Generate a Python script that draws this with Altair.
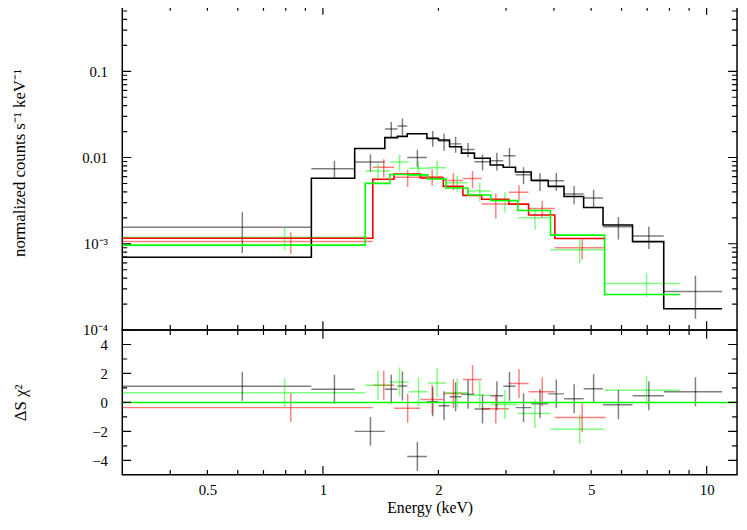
import altair as alt
import pandas as pd

FONT = "Liberation Serif"

# ---------------- data ----------------
# black spectrum: bin edges (keV), data, 1-sigma error, folded model, residual
blk_lo = [0.30, 0.933, 1.21, 1.45, 1.564, 1.659, 1.866, 2.0, 2.138, 2.296, 2.483,
          2.729, 2.951, 3.176, 3.49, 3.866, 4.249, 4.78, 5.37, 6.41, 7.73]
blk_hi = [0.933, 1.21, 1.45, 1.564, 1.659, 1.866, 2.0, 2.138, 2.296, 2.483, 2.729,
          2.951, 3.176, 3.49, 3.866, 4.249, 4.78, 5.37, 6.41, 7.73, 10.97]
blk_val = [1.55e-3, 7.4e-3, 8.9e-3, 0.0214, 0.0232, 0.0100, 0.0168, 0.0155, 0.0144, 0.0124,
           8.95e-3, 9.2e-3, 0.0105, 6.3e-3, 5.33e-3, 5.37e-3, 3.77e-3, 3.4e-3, 1.58e-3, 1.23e-3, 2.8e-4]
blk_err = [0.77e-3, 1.77e-3, 2.0e-3, 4.4e-3, 5.1e-3, 2.3e-3, 3.5e-3, 3.5e-3, 3.0e-3, 2.35e-3,
           1.89e-3, 2.14e-3, 2.5e-3, 1.4e-3, 1.25e-3, 1.25e-3, 0.9e-3, 0.82e-3, 0.46e-3, 0.36e-3, 1.45e-4]
blk_mod = [6.98e-4, 5.74e-3, 1.27e-2, 1.70e-2, 1.76e-2, 1.89e-2, 1.665e-2, 1.595e-2, 1.333e-2,
           1.125e-2, 9.83e-3, 8.2e-3, 7.72e-3, 6.80e-3, 5.44e-3, 4.63e-3, 3.54e-3, 2.63e-3,
           1.65e-3, 1.06e-3, 1.76e-4]
blk_res = [1.11, 0.91, -2.0, 0.91, 1.14, -3.73, 0.05, -0.23, 0.39, 0.57, -0.46, 0.46, 1.11,
           -0.36, -0.09, 0.59, 0.25, 0.95, -0.16, 0.46, 0.73]

# red spectrum
red_lo = [0.30, 1.349, 1.532, 1.794, 2.059, 2.317, 2.592, 3.052, 3.435, 4.022]
red_hi = [1.349, 1.532, 1.794, 2.059, 2.317, 2.592, 3.052, 3.435, 4.022, 5.453]
red_val = [1.06e-3, 7.7e-3, 5.9e-3, 6.0e-3, 5.4e-3, 5.7e-3, 2.9e-3, 3.95e-3, 2.57e-3, 9.0e-4]
red_err = [0.30e-3, 1.84e-3, 1.34e-3, 1.3e-3, 1.2e-3, 1.3e-3, 0.93e-3, 0.83e-3, 0.56e-3, 2.4e-4]
red_mod = [1.16e-3, 5.6e-3, 6.45e-3, 5.79e-3, 4.63e-3, 3.64e-3, 3.29e-3, 2.88e-3, 2.16e-3, 1.15e-3]
red_res = [-0.36, 1.18, -0.41, 0.2, 0.61, 1.59, -0.43, 1.3, 0.73, -1.04]

# green spectrum
grn_lo = [0.30, 1.289, 1.494, 1.674, 1.877, 2.092, 2.386, 2.740, 3.220, 3.918, 5.42]
grn_hi = [1.289, 1.494, 1.674, 1.877, 2.092, 2.386, 2.740, 3.220, 3.918, 5.42, 8.526]
grn_val = [1.19e-3, 7.0e-3, 8.9e-3, 7.5e-3, 7.6e-3, 5.1e-3, 4.1e-3, 3.15e-3, 2.0e-3, 8.5e-4, 3.46e-4]
grn_err = [0.35e-3, 1.65e-3, 1.89e-3, 1.58e-3, 1.6e-3, 1.08e-3, 1.0e-3, 0.84e-3, 0.56e-3, 2.5e-4, 1.05e-4]
grn_mod = [9.64e-4, 5.02e-3, 6.36e-3, 6.3e-3, 5.64e-3, 4.43e-3, 3.68e-3, 3.18e-3, 2.43e-3, 1.26e-3, 2.58e-4]
grn_res = [0.66, 1.18, 1.41, 0.73, 1.34, 0.66, 0.5, -0.14, -0.77, -1.86, 0.84]

RES_ERR = 1.0  # residual error bars are +-1 sigma
ZERO = [0.0]

# axis ranges, tick values and labels
X_DOM = [0.3, 12.0]
TOP_DOM = [1e-4, 0.5735]
RES_DOM = [-5, 5]
x_label_vals = [0.5, 1, 2, 5, 10]
x_major = [1, 10]
x_minor = [0.4, 0.5, 0.6, 0.7, 0.8, 0.9, 2, 3, 4, 5, 6, 7, 8, 9]
top_major = [1e-4, 1e-3, 1e-2, 1e-1]
top_minor = [2e-4, 3e-4, 4e-4, 5e-4, 6e-4, 7e-4, 8e-4, 9e-4,
             2e-3, 3e-3, 4e-3, 5e-3, 6e-3, 7e-3, 8e-3, 9e-3,
             2e-2, 3e-2, 4e-2, 5e-2, 6e-2, 7e-2, 8e-2, 9e-2,
             0.2, 0.3, 0.4, 0.5]
res_major = [-4, -2, 0, 2, 4]
res_minor = [-3, -1, 1, 3]

# ---------------- tables ----------------
sets = [("black", blk_lo, blk_hi, blk_val, blk_err, blk_mod, blk_res),
        ("red", red_lo, red_hi, red_val, red_err, red_mod, red_res),
        ("green", grn_lo, grn_hi, grn_val, grn_err, grn_mod, grn_res)]
rows, steps = [], []
for name, lo, hi, val, err, mod, res in sets:
    for i in range(len(lo)):
        rows.append(dict(set=name, lo=lo[i], hi=hi[i], ctr=(lo[i] + hi[i]) / 2,
                         val=val[i], vlo=val[i] - err[i], vhi=val[i] + err[i],
                         res=res[i], rlo=res[i] - RES_ERR, rhi=res[i] + RES_ERR))
        steps.append(dict(set=name, x=lo[i], m=mod[i], o=i))
    steps.append(dict(set=name, x=hi[-1], m=mod[-1], o=len(lo)))
pts = pd.DataFrame(rows)
stp = pd.DataFrame(steps)

W, H1, H2 = 624, 329, 147
xscale = alt.Scale(type="log", domain=X_DOM, nice=False)
ytop_scale = alt.Scale(type="log", domain=TOP_DOM, nice=False)
yres_scale = alt.Scale(domain=RES_DOM, nice=False, zero=False)
cscale = alt.Scale(domain=["black", "red", "green"], range=["#000000", "#ff0000", "#00ff00"])
COLOR = alt.Color("set:N", scale=cscale, legend=None)

common = dict(ticks=False, domain=False, grid=False, labelFont=FONT, labelFontSize=15,
              labelColor="black", labelFlush=False, titleFont=FONT, titleFontWeight="normal",
              titleColor="black")

ax_top_y = alt.Axis(values=top_major, labelPadding=15,
                    labelExpr="datum.value < 0.0005 ? '10⁻⁴' : datum.value < 0.005 ? '10⁻³' : datum.value < 0.05 ? '0.01' : '0.1'",
                    title="normalized counts s⁻¹ keV⁻¹", titleFontSize=17, titleAngle=270,
                    titleX=-99, titleY=159,
                    titleAlign="center", titleBaseline="alphabetic", **common)
ax_res_y = alt.Axis(values=res_major, format="d", labelPadding=15,
                    title="ΔS χ²", titleFontSize=17, titleAngle=270, titleX=-98, titleY=H2 / 2,
                    titleAlign="center", titleBaseline="alphabetic", **common)
ax_bot_x = alt.Axis(values=x_label_vals, format="~g", labelPadding=8,
                    title="Energy (keV)", titleFontSize=16, titleY=38,
                    titleBaseline="alphabetic", **common)


def XT(f):
    return alt.X(f"{f}:Q", scale=xscale, axis=None)


def XB(f):
    return alt.X(f"{f}:Q", scale=xscale, axis=ax_bot_x)


def YT(f):
    return alt.Y(f"{f}:Q", scale=ytop_scale, axis=ax_top_y)


def YR(f):
    return alt.Y(f"{f}:Q", scale=yres_scale, axis=ax_res_y)


def tick_layers(X, Y, ydom, xmaj, xmin, ymaj, ymin):
    """Inward ticks on all four frame edges: ticks centred on an edge, clipped to the plot."""
    out = []
    for vals, size in ((xmaj, 18), (xmin, 10)):
        d = pd.DataFrame([{"t": v, "e": e} for v in vals for e in ydom])
        out.append(alt.Chart(d).mark_tick(orient="vertical", size=size, thickness=1.2,
                                          color="black", opacity=1, clip=True)
                   .encode(x=X("t"), y=Y("e")))
    for vals, size in ((ymaj, 18), (ymin, 10)):
        d = pd.DataFrame([{"t": v, "e": e} for v in vals for e in X_DOM])
        out.append(alt.Chart(d).mark_tick(orient="horizontal", size=size, thickness=1.2,
                                          color="black", opacity=1, clip=True)
                   .encode(y=Y("t"), x=X("e")))
    return out


# ---------------- top panel ----------------
base_pts = alt.Chart(pts)
t_h = base_pts.mark_rule(strokeWidth=1.5, opacity=0.5, clip=True).encode(
    x=XT("lo"), x2="hi", y=YT("val"), color=COLOR)
t_v = base_pts.mark_rule(strokeWidth=1.5, opacity=0.5, clip=True).encode(
    x=XT("ctr"), y=YT("vlo"), y2="vhi", color=COLOR)
t_m = alt.Chart(stp).mark_line(interpolate="step-after", strokeWidth=1.6, clip=True).encode(
    x=XT("x"), y=YT("m"), color=COLOR, order="o:Q")
top = alt.layer(t_h, t_v, t_m,
                *tick_layers(XT, YT, TOP_DOM, x_major, x_minor, top_major, top_minor)
                ).properties(width=W, height=H1)

# ---------------- residual panel ----------------
zero_df = pd.DataFrame({"z": ZERO, "xa": [X_DOM[0]], "xb": [X_DOM[1]]})
b_h = base_pts.mark_rule(strokeWidth=1.5, opacity=0.5, clip=True).encode(
    x=XB("lo"), x2="hi", y=YR("res"), color=COLOR)
b_v = base_pts.mark_rule(strokeWidth=1.5, opacity=0.5, clip=True).encode(
    x=XB("ctr"), y=YR("rlo"), y2="rhi", color=COLOR)
b_z = alt.Chart(zero_df).mark_rule(color="#00ff00", strokeWidth=1.6).encode(
    y=YR("z"), x=XB("xa"), x2="xb")
bot = alt.layer(b_h, b_v, b_z,
                *tick_layers(XB, YR, RES_DOM, x_major, x_minor, res_major, res_minor)
                ).properties(width=W, height=H2)

chart = alt.vconcat(top, bot, spacing=0, bounds="flush").properties(
    padding={"left": 2, "top": -7, "right": 0, "bottom": 0},
    background="white",
).configure_view(stroke="black", strokeWidth=1.5)

chart.save("out.html", embed_options={"renderer": "svg", "actions": False})
